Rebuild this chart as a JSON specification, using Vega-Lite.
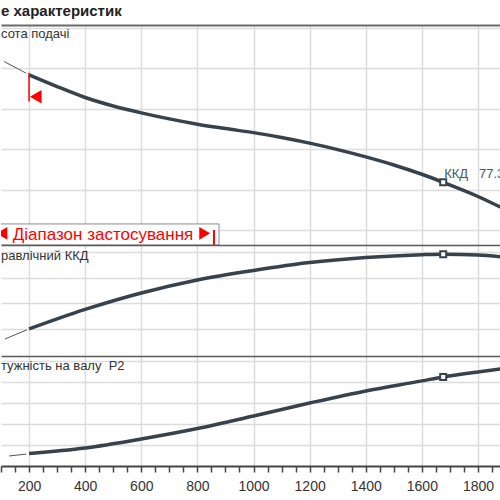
{
  "$schema": "https://vega.github.io/schema/vega-lite/v6.json",
  "autosize": {"type": "pad"},
  "padding": {"top": 4, "left": 0, "right": 0, "bottom": 0},
  "background": "white",
  "title": {"text": "е характеристик", "anchor": "start", "frame": "group", "fontSize": 15, "fontWeight": "bold", "color": "#222222", "font": "Liberation Sans", "offset": 6},
  "config": {
    "view": {"stroke": null},
    "font": "Liberation Sans",
    "axis": {"gridColor": "#dcdcdc", "gridWidth": 1.5}
  },
  "spacing": 0,
  "bounds": "flush",
  "datasets": {
    "head": [
      {"Q": 111, "H": 51.7, "part": "ext"},
      {"Q": 190, "H": 48.8, "part": "ext"},
      {"Q": 200, "H": 48.4, "part": "main"},
      {"Q": 300, "H": 45.5, "part": "main"},
      {"Q": 400, "H": 42.8, "part": "main"},
      {"Q": 500, "H": 40.7, "part": "main"},
      {"Q": 600, "H": 39.0, "part": "main"},
      {"Q": 700, "H": 37.5, "part": "main"},
      {"Q": 800, "H": 36.2, "part": "main"},
      {"Q": 900, "H": 35.1, "part": "main"},
      {"Q": 1000, "H": 34.1, "part": "main"},
      {"Q": 1100, "H": 32.9, "part": "main"},
      {"Q": 1200, "H": 31.5, "part": "main"},
      {"Q": 1300, "H": 29.9, "part": "main"},
      {"Q": 1400, "H": 28.1, "part": "main"},
      {"Q": 1500, "H": 26.1, "part": "main"},
      {"Q": 1600, "H": 23.8, "part": "main"},
      {"Q": 1676, "H": 21.8, "part": "main"},
      {"Q": 1800, "H": 18.3, "part": "main"},
      {"Q": 1882, "H": 15.6, "part": "main"}
    ],
    "eff": [
      {"Q": 114, "E": 12.3, "part": "ext"},
      {"Q": 192, "E": 19.4, "part": "ext"},
      {"Q": 200, "E": 20.1, "part": "main"},
      {"Q": 400, "E": 35.3, "part": "main"},
      {"Q": 600, "E": 48.1, "part": "main"},
      {"Q": 800, "E": 58.2, "part": "main"},
      {"Q": 1000, "E": 65.6, "part": "main"},
      {"Q": 1200, "E": 71.8, "part": "main"},
      {"Q": 1400, "E": 75.7, "part": "main"},
      {"Q": 1600, "E": 77.9, "part": "main"},
      {"Q": 1676, "E": 78.3, "part": "main"},
      {"Q": 1800, "E": 77.6, "part": "main"},
      {"Q": 1882, "E": 76.3, "part": "main"}
    ],
    "power": [
      {"Q": 129, "P": 0.48, "part": "ext"},
      {"Q": 190, "P": 0.57, "part": "ext"},
      {"Q": 200, "P": 0.60, "part": "main"},
      {"Q": 400, "P": 0.86, "part": "main"},
      {"Q": 600, "P": 1.29, "part": "main"},
      {"Q": 800, "P": 1.79, "part": "main"},
      {"Q": 1000, "P": 2.39, "part": "main"},
      {"Q": 1200, "P": 3.01, "part": "main"},
      {"Q": 1400, "P": 3.59, "part": "main"},
      {"Q": 1600, "P": 4.07, "part": "main"},
      {"Q": 1676, "P": 4.26, "part": "main"},
      {"Q": 1800, "P": 4.50, "part": "main"},
      {"Q": 1882, "P": 4.64, "part": "main"}
    ],
    "duty": [{"Q": 1676, "H": 21.8, "E": 78.3, "P": 4.26}],
    "range": [{"Qmin": 200, "Qmax": 859}]
  },
  "vconcat": [
    {
      "width": 500,
      "height": 220,
      "resolve": {"axis": {"x": "independent", "y": "independent"}},
      "layer": [
        {
          "data": {"name": "head"},
          "transform": [{"filter": "datum.part === 'main'"}],
          "mark": {"type": "line", "color": "#38424c", "strokeWidth": 3.5, "interpolate": "monotone"},
          "encoding": {
            "x": {"field": "Q", "type": "quantitative", "scale": {"domain": [100, 1882], "nice": false, "zero": false},
                  "axis": {"orient": "top", "values": [200, 400, 600, 800, 1000, 1200, 1400, 1600, 1800], "labels": false, "ticks": false, "domain": true, "domainColor": "#6a6a6a", "domainWidth": 2, "grid": true, "title": null}},
            "y": {"field": "H", "type": "quantitative", "scale": {"domain": [6.29, 60.74], "nice": false, "zero": false},
                  "axis": {"values": [10, 20, 30, 40, 50, 60], "labels": false, "ticks": false, "domain": false, "grid": true, "title": null}}
          }
        },
        {
          "data": {"name": "head"},
          "transform": [{"filter": "datum.part === 'ext'"}],
          "mark": {"type": "line", "color": "#555555", "strokeWidth": 1, "interpolate": "monotone"},
          "encoding": {
            "x": {"field": "Q", "type": "quantitative", "axis": null},
            "y": {"field": "H", "type": "quantitative", "axis": null}
          }
        },
        {
          "data": {"name": "duty"},
          "mark": {"type": "point", "shape": "square", "size": 36, "filled": true, "fill": "white", "stroke": "#38424c", "strokeWidth": 2, "opacity": 1},
          "encoding": {
            "x": {"field": "Q", "type": "quantitative", "axis": null},
            "y": {"field": "H", "type": "quantitative", "axis": null}
          }
        },
        {
          "data": {"name": "duty"},
          "mark": {"type": "text", "align": "left", "baseline": "alphabetic", "fontSize": 13, "color": "#46576a", "dx": 1, "dy": -4},
          "encoding": {
            "x": {"field": "Q", "type": "quantitative", "axis": null},
            "y": {"field": "H", "type": "quantitative", "axis": null},
            "text": {"value": "ККД\u00a0\u00a0\u00a077.3 %"}
          }
        },
        {
          "data": {"name": "range"},
          "mark": {"type": "rule", "color": "#ff0000", "strokeWidth": 1.5},
          "encoding": {
            "x": {"field": "Qmin", "type": "quantitative", "axis": null},
            "y": {"datum": 48.9, "type": "quantitative", "axis": null},
            "y2": {"datum": 41.8}
          }
        },
        {
          "data": {"name": "range"},
          "mark": {"type": "point", "shape": "triangle-left", "size": 180, "filled": true, "color": "#ff0000", "opacity": 1, "xOffset": 6.7},
          "encoding": {
            "x": {"field": "Qmin", "type": "quantitative", "axis": null},
            "y": {"datum": 43.0, "type": "quantitative", "axis": null}
          }
        },
        {
          "data": {"name": "range"},
          "mark": {"type": "rect", "fill": "white", "stroke": "#8a8a8a", "strokeWidth": 1, "clip": true},
          "encoding": {
            "x": {"datum": 90, "type": "quantitative", "axis": null},
            "x2": {"datum": 877},
            "y": {"datum": 11.5, "type": "quantitative", "axis": null},
            "y2": {"datum": 6.29}
          }
        },
        {
          "data": {"name": "range"},
          "mark": {"type": "rule", "color": "#ff0000", "strokeWidth": 2},
          "encoding": {
            "x": {"field": "Qmax", "type": "quantitative", "axis": null},
            "y": {"datum": 10.0, "type": "quantitative", "axis": null},
            "y2": {"datum": 6.29}
          }
        },
        {
          "data": {"name": "range"},
          "mark": {"type": "point", "shape": "triangle-left", "size": 160, "filled": true, "color": "#ff0000", "opacity": 1, "clip": true},
          "encoding": {
            "x": {"datum": 103, "type": "quantitative", "axis": null},
            "y": {"datum": 9.18, "type": "quantitative", "axis": null}
          }
        },
        {
          "data": {"name": "range"},
          "mark": {"type": "point", "shape": "triangle-right", "size": 160, "filled": true, "color": "#ff0000", "opacity": 1},
          "encoding": {
            "x": {"datum": 826, "type": "quantitative", "axis": null},
            "y": {"datum": 9.18, "type": "quantitative", "axis": null}
          }
        },
        {
          "data": {"name": "range"},
          "mark": {"type": "text", "align": "left", "baseline": "alphabetic", "fontSize": 17, "color": "#ff0000"},
          "encoding": {
            "x": {"datum": 142, "type": "quantitative", "axis": null},
            "y": {"datum": 7.5, "type": "quantitative", "axis": null},
            "text": {"value": "Діапазон застосування"}
          }
        },
        {
          "data": {"name": "range"},
          "mark": {"type": "text", "align": "left", "baseline": "alphabetic", "fontSize": 13, "color": "#333333"},
          "encoding": {
            "x": {"datum": 100, "type": "quantitative", "axis": null},
            "y": {"datum": 57.5, "type": "quantitative", "axis": null},
            "text": {"value": "сота подачі"}
          }
        }
      ]
    },
    {
      "width": 500,
      "height": 111,
      "resolve": {"axis": {"x": "independent", "y": "independent"}},
      "layer": [
        {
          "data": {"name": "eff"},
          "transform": [{"filter": "datum.part === 'main'"}],
          "mark": {"type": "line", "color": "#38424c", "strokeWidth": 3.5, "interpolate": "monotone"},
          "encoding": {
            "x": {"field": "Q", "type": "quantitative", "scale": {"domain": [100, 1882], "nice": false, "zero": false},
                  "axis": {"orient": "top", "values": [200, 400, 600, 800, 1000, 1200, 1400, 1600, 1800], "labels": false, "ticks": false, "domain": true, "domainColor": "#5a5a5a", "domainWidth": 1.5, "grid": true, "title": null}},
            "y": {"field": "E", "type": "quantitative", "scale": {"domain": [-0.93, 85.45], "nice": false, "zero": false},
                  "axis": {"values": [20, 40, 60, 80], "labels": false, "ticks": false, "domain": false, "grid": true, "title": null}}
          }
        },
        {
          "data": {"name": "eff"},
          "transform": [{"filter": "datum.part === 'ext'"}],
          "mark": {"type": "line", "color": "#555555", "strokeWidth": 1, "interpolate": "monotone"},
          "encoding": {
            "x": {"field": "Q", "type": "quantitative", "axis": null},
            "y": {"field": "E", "type": "quantitative", "axis": null}
          }
        },
        {
          "data": {"name": "duty"},
          "mark": {"type": "point", "shape": "square", "size": 36, "filled": true, "fill": "white", "stroke": "#38424c", "strokeWidth": 2, "opacity": 1},
          "encoding": {
            "x": {"field": "Q", "type": "quantitative", "axis": null},
            "y": {"field": "E", "type": "quantitative", "axis": null}
          }
        },
        {
          "data": {"name": "duty"},
          "mark": {"type": "text", "align": "left", "baseline": "alphabetic", "fontSize": 13, "color": "#333333"},
          "encoding": {
            "x": {"datum": 100, "type": "quantitative", "axis": null},
            "y": {"datum": 73.8, "type": "quantitative", "axis": null},
            "text": {"value": "равлічний ККД"}
          }
        }
      ]
    },
    {
      "width": 500,
      "height": 110,
      "resolve": {"axis": {"x": "independent", "y": "independent"}},
      "layer": [
        {
          "data": {"name": "power"},
          "transform": [{"filter": "datum.part === 'main'"}],
          "mark": {"type": "line", "color": "#38424c", "strokeWidth": 3.5, "interpolate": "monotone"},
          "encoding": {
            "x": {"field": "Q", "type": "quantitative", "scale": {"domain": [100, 1882], "nice": false, "zero": false},
                  "axis": {"orient": "top", "values": [200, 400, 600, 800, 1000, 1200, 1400, 1600, 1800], "labels": false, "ticks": false, "domain": true, "domainColor": "#5a5a5a", "domainWidth": 1.5, "grid": true, "title": null}},
            "y": {"field": "P", "type": "quantitative", "scale": {"domain": [0, 5.26], "nice": false, "zero": false},
                  "axis": {"values": [1, 2, 3, 4, 5], "labels": false, "ticks": false, "domain": false, "grid": true, "title": null}}
          }
        },
        {
          "data": {"name": "power"},
          "transform": [{"filter": "datum.part === 'ext'"}],
          "mark": {"type": "line", "color": "#555555", "strokeWidth": 1, "interpolate": "monotone"},
          "encoding": {
            "x": {"field": "Q", "type": "quantitative",
                  "axis": {"orient": "bottom", "values": [100, 150, 200, 250, 300, 350, 400, 450, 500, 550, 600, 650, 700, 750, 800, 850, 900, 950, 1000, 1050, 1100, 1150, 1200, 1250, 1300, 1350, 1400, 1450, 1500, 1550, 1600, 1650, 1700, 1750, 1800, 1850],
                           "labelExpr": "datum.value % 200 === 0 ? format(datum.value, 'd') : ''", "labelOverlap": false, "labelBound": false, "labelFlush": false,
                           "labelFontSize": 14, "labelColor": "#333333", "labelPadding": 7,
                           "ticks": true, "tickSize": 6, "tickColor": "#444444", "tickWidth": 1.5,
                           "domain": true, "domainColor": "#444444", "domainWidth": 2, "grid": false, "title": null}},
            "y": {"field": "P", "type": "quantitative", "axis": null}
          }
        },
        {
          "data": {"name": "duty"},
          "mark": {"type": "point", "shape": "square", "size": 36, "filled": true, "fill": "white", "stroke": "#38424c", "strokeWidth": 2, "opacity": 1},
          "encoding": {
            "x": {"field": "Q", "type": "quantitative", "axis": null},
            "y": {"field": "P", "type": "quantitative", "axis": null}
          }
        },
        {
          "data": {"name": "duty"},
          "mark": {"type": "text", "align": "left", "baseline": "alphabetic", "fontSize": 13, "color": "#333333"},
          "encoding": {
            "x": {"datum": 100, "type": "quantitative", "axis": null},
            "y": {"datum": 4.59, "type": "quantitative", "axis": null},
            "text": {"value": "тужність на валу\u00a0\u00a0P2"}
          }
        }
      ]
    }
  ]
}
